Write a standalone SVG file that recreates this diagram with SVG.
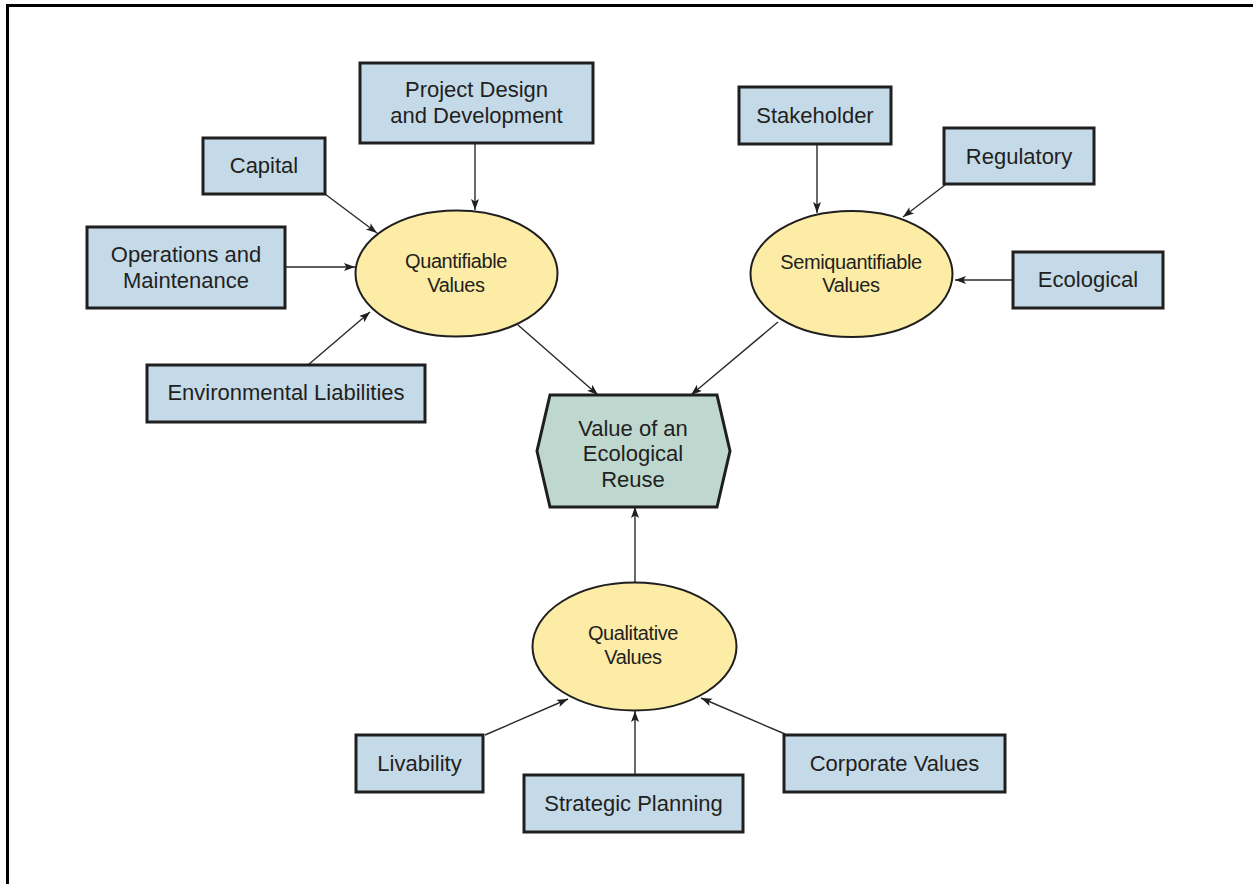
<svg xmlns="http://www.w3.org/2000/svg" width="1253" height="884" viewBox="0 0 1253 884">
<defs>
<style>
.box{fill:#c5dae8;stroke:#1f1f1f;stroke-width:3}
.ell{fill:#fdeca6;stroke:#1f1f1f;stroke-width:2}
.hex{fill:#bed7cf;stroke:#1f1f1f;stroke-width:3}
.t{font-family:"Liberation Sans",Arial,sans-serif;font-size:22px;fill:#231f20;text-anchor:middle}
.te{font-family:"Liberation Sans",Arial,sans-serif;font-size:20px;fill:#231f20;text-anchor:middle;letter-spacing:-0.4px}
.c{stroke:#2a2a2a;stroke-width:1.4;fill:none;marker-end:url(#ah)}
</style>
<marker id="ah" markerUnits="userSpaceOnUse" markerWidth="12" markerHeight="10" refX="11" refY="4" orient="auto">
<path d="M0,0 L11,4 L0,8 L2.5,4 z" fill="#1f1f1f"/>
</marker>
</defs>
<rect width="1253" height="884" fill="#ffffff"/>
<g id="frame">
<line x1="6" y1="5.5" x2="1253" y2="5.5" stroke="#000" stroke-width="3"/>
<line x1="7.5" y1="4" x2="7.5" y2="884" stroke="#000" stroke-width="3"/>
</g>
<g id="connectors">
<line class="c" x1="325" y1="194" x2="377" y2="233"/>
<line class="c" x1="285" y1="267" x2="355" y2="267"/>
<line class="c" x1="308" y1="365" x2="370" y2="312"/>
<line class="c" x1="475" y1="143" x2="475" y2="210"/>
<line class="c" x1="518" y1="325" x2="598" y2="395"/>
<line class="c" x1="817" y1="144" x2="817" y2="213"/>
<line class="c" x1="945" y1="185" x2="903" y2="217"/>
<line class="c" x1="1013" y1="280" x2="955" y2="280"/>
<line class="c" x1="778" y1="322" x2="691" y2="395"/>
<line class="c" x1="635" y1="582" x2="635" y2="507"/>
<line class="c" x1="485" y1="735" x2="568" y2="699"/>
<line class="c" x1="635" y1="775" x2="635" y2="711"/>
<line class="c" x1="785" y1="734" x2="701" y2="698"/>
</g>
<g id="project-design">
<rect class="box" x="360" y="63" width="233" height="80"/>
<text class="t" x="476.5" y="97">Project Design</text>
<text class="t" x="476.5" y="123">and Development</text>
</g>
<g id="capital">
<rect class="box" x="203" y="138" width="122" height="56"/>
<text class="t" x="264" y="173">Capital</text>
</g>
<g id="operations">
<rect class="box" x="87" y="227" width="198" height="81"/>
<text class="t" x="186" y="262">Operations and</text>
<text class="t" x="186" y="288">Maintenance</text>
</g>
<g id="environmental">
<rect class="box" x="147" y="365" width="278" height="57"/>
<text class="t" x="286" y="400">Environmental Liabilities</text>
</g>
<g id="stakeholder">
<rect class="box" x="739" y="87" width="152" height="57"/>
<text class="t" x="815" y="123">Stakeholder</text>
</g>
<g id="regulatory">
<rect class="box" x="944" y="128" width="150" height="56"/>
<text class="t" x="1019" y="164">Regulatory</text>
</g>
<g id="ecological">
<rect class="box" x="1013" y="252" width="150" height="56"/>
<text class="t" x="1088" y="287">Ecological</text>
</g>
<g id="livability">
<rect class="box" x="356" y="735" width="127" height="57"/>
<text class="t" x="419.5" y="771">Livability</text>
</g>
<g id="strategic-planning">
<rect class="box" x="524" y="775" width="219" height="57"/>
<text class="t" x="633.5" y="811">Strategic Planning</text>
</g>
<g id="corporate-values">
<rect class="box" x="784" y="735" width="221" height="57"/>
<text class="t" x="894.5" y="771">Corporate Values</text>
</g>
<g id="quantifiable">
<ellipse class="ell" cx="456.5" cy="273.5" rx="101" ry="63"/>
<text class="te" x="456" y="268">Quantifiable</text>
<text class="te" x="456" y="292">Values</text>
</g>
<g id="semiquantifiable">
<ellipse class="ell" cx="851.5" cy="274" rx="101" ry="63"/>
<text class="te" x="851" y="269">Semiquantifiable</text>
<text class="te" x="851" y="292">Values</text>
</g>
<g id="qualitative">
<ellipse class="ell" cx="634.5" cy="646.5" rx="102" ry="64"/>
<text class="te" x="633" y="640">Qualitative</text>
<text class="te" x="633" y="664">Values</text>
</g>
<g id="value-ecological-reuse">
<polygon class="hex" points="550,395 717,395 730,451 717,507 550,507 537,451"/>
<text class="t" x="633" y="436">Value of an</text>
<text class="t" x="633" y="461">Ecological</text>
<text class="t" x="633" y="487">Reuse</text>
</g>
</svg>
